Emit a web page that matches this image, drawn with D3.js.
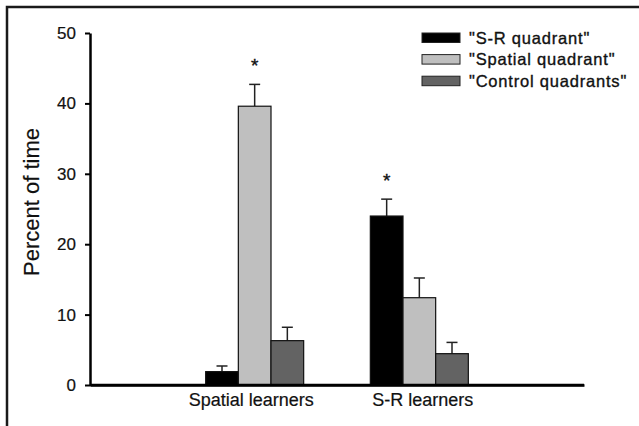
<!DOCTYPE html>
<html>
<head>
<meta charset="utf-8">
<script src="https://cdn.jsdelivr.net/npm/d3@7"></script>
<style>
  html, body { margin: 0; padding: 0; background: #fff; }
  svg { display: block; font-family: Arial, "Liberation Sans", Helvetica, sans-serif; }
</style>
</head>
<body>
<svg id="chart" width="639" height="426"></svg>
<script>
const categories = ["Spatial learners", "S-R learners"];
const seriesNames = ["\"S-R quadrant\"", "\"Spatial quadrant\"", "\"Control quadrants\""];
const srQuadrant = [1.9, 24.0];
const spatialQuadrant = [39.6, 12.4];
const controlQuadrants = [6.3, 4.45];
const srErr = [0.8, 2.4];
const spatialErr = [3.1, 2.8];
const controlErr = [1.9, 1.6];
const significant = [[false, true, false], [true, false, false]];
const yTicks = [0, 10, 20, 30, 40, 50];
const colors = ["#000000", "#bfbfbf", "#636363"];

const values = [srQuadrant, spatialQuadrant, controlQuadrants];
const errors = [srErr, spatialErr, controlErr];

const svg = d3.select("#chart");

// outer frame (cropped: only left and top edges visible)
svg.append("rect")
  .attr("x", 7).attr("y", 7)
  .attr("width", 700).attr("height", 500)
  .attr("fill", "none").attr("stroke", "#1a1a1a").attr("stroke-width", 2.5);

const x0 = 90, x1 = 584, yTop = 33, yBot = 385;

const y = d3.scaleLinear().domain([0, 50]).range([yBot, yTop]);
const x = d3.scalePoint().domain(categories).range([x0, x1]).padding(1);
const xs = d3.scaleBand().domain(d3.range(seriesNames.length)).range([-49, 49]).padding(0);

// y axis
const yAxis = svg.append("g")
  .attr("transform", `translate(${x0},0)`)
  .call(d3.axisLeft(y).tickValues(yTicks).tickSize(5).tickSizeOuter(0).tickPadding(9));
yAxis.select(".domain").attr("stroke", "#000").attr("stroke-width", 2.5);
yAxis.selectAll(".tick line").attr("stroke", "#000").attr("stroke-width", 2);
yAxis.selectAll(".tick text").attr("font-size", 17).attr("fill", "#111")
  .attr("stroke", "#111").attr("stroke-width", 0.2)
  .attr("font-family", "Arial, 'Liberation Sans', sans-serif");

// x axis
const xAxis = svg.append("g")
  .attr("transform", `translate(0,${yBot})`)
  .call(d3.axisBottom(x).tickSize(0).tickPadding(8));
xAxis.select(".domain").attr("stroke", "#000").attr("stroke-width", 2.5);
xAxis.selectAll(".tick text").attr("font-size", 18).attr("fill", "#111")
  .attr("stroke", "#111").attr("stroke-width", 0.2)
  .attr("font-family", "Arial, 'Liberation Sans', sans-serif")
  .attr("dx", (d, i) => i === 0 ? -4 : 3);

// y label
svg.append("text")
  .attr("transform", `translate(39,202) rotate(-90)`)
  .attr("text-anchor", "middle")
  .attr("font-size", 22).attr("fill", "#111")
  .attr("stroke", "#111").attr("stroke-width", 0.2)
  .text("Percent of time");

// bars
const groups = svg.append("g").selectAll("g")
  .data(categories)
  .join("g")
  .attr("transform", d => `translate(${x(d)},0)`);

groups.each(function(cat, ci) {
  const g = d3.select(this);
  seriesNames.forEach((s, si) => {
    const v = values[si][ci];
    const e = errors[si][ci];
    const bx = xs(si);
    const bw = xs.bandwidth();
    const cx = bx + bw / 2;
    g.append("line")
      .attr("x1", cx).attr("x2", cx)
      .attr("y1", y(v)).attr("y2", y(v + e))
      .attr("stroke", "#222").attr("stroke-width", 1.5);
    g.append("line")
      .attr("x1", cx - 5.5).attr("x2", cx + 5.5)
      .attr("y1", y(v + e)).attr("y2", y(v + e))
      .attr("stroke", "#222").attr("stroke-width", 1.5);
    g.append("rect")
      .attr("x", bx).attr("width", bw)
      .attr("y", y(v)).attr("height", y(0) - y(v))
      .attr("fill", colors[si]).attr("stroke", "#111").attr("stroke-width", 1.2);
    if (significant[ci][si]) {
      g.append("text")
        .attr("x", cx).attr("y", y(v + e) - 12)
        .attr("text-anchor", "middle")
        .attr("font-size", 19).attr("fill", "#111")
        .attr("stroke", "#111").attr("stroke-width", 0.4)
        .text("*");
    }
  });
});

svg.append("line").attr("x1", x0).attr("x2", x1).attr("y1", yBot).attr("y2", yBot)
  .attr("stroke", "#000").attr("stroke-width", 2.5);

// legend
const legend = svg.append("g").attr("transform", "translate(422,33)");
seriesNames.forEach((s, i) => {
  const row = legend.append("g").attr("transform", `translate(0,${i * 21.6})`);
  row.append("rect").attr("x", 0).attr("y", 0).attr("width", 38).attr("height", 9.5)
    .attr("fill", colors[i]).attr("stroke", "#222").attr("stroke-width", 1);
  row.append("text").attr("x", 47).attr("y", 10.5)
    .attr("font-size", 16.5).attr("letter-spacing", 0.8).attr("fill", "#111")
    .attr("stroke", "#111").attr("stroke-width", 0.35)
    .text(s);
});
</script>
</body>
</html>
